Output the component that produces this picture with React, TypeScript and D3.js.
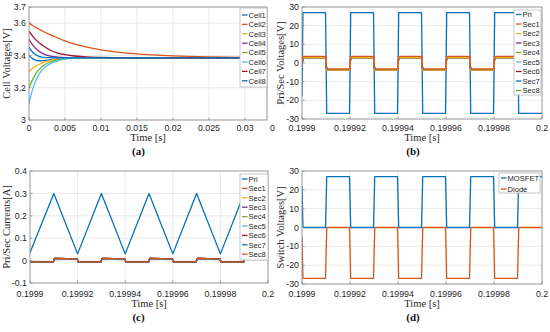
import React from "react";
import * as d3 from "d3";

// ---------- colours (MATLAB default order) ----------
const C_BLUE = "#0072BD";
const C_ORANGE = "#D95319";
const C_YELLOW = "#EDB120";
const C_PURPLE = "#7E2F8E";
const C_GREEN = "#77AC30";
const C_CYAN = "#4DBEEE";
const C_RED = "#A2142F";

// ---------- panel (a): cell voltages ----------
const cellTimes = [0, 0.0005, 0.001, 0.0015, 0.002, 0.003, 0.004, 0.005, 0.006, 0.008, 0.01, 0.012, 0.015, 0.02, 0.025, 0.03, 0.034];
const cellNames = ["Cell1", "Cell2", "Cell3", "Cell4", "Cell5", "Cell6", "Cell7", "Cell8"];
const cell1 = [3.4, 3.38, 3.37, 3.367, 3.368, 3.374, 3.379, 3.382, 3.384, 3.385, 3.385, 3.385, 3.385, 3.385, 3.385, 3.385, 3.385];
const cell2 = [3.6, 3.585, 3.572, 3.56, 3.548, 3.527, 3.508, 3.49, 3.475, 3.452, 3.435, 3.422, 3.409, 3.397, 3.391, 3.388, 3.387];
const cell3 = [3.3, 3.32, 3.335, 3.347, 3.357, 3.37, 3.378, 3.382, 3.384, 3.385, 3.385, 3.385, 3.385, 3.385, 3.385, 3.385, 3.385];
const cell4 = [3.5, 3.465, 3.44, 3.422, 3.41, 3.396, 3.39, 3.387, 3.386, 3.385, 3.385, 3.385, 3.385, 3.385, 3.385, 3.385, 3.385];
const cell5 = [3.2, 3.25, 3.29, 3.318, 3.338, 3.36, 3.373, 3.38, 3.383, 3.385, 3.385, 3.385, 3.385, 3.385, 3.385, 3.385, 3.385];
const cell6 = [3.1, 3.19, 3.25, 3.29, 3.318, 3.35, 3.367, 3.377, 3.382, 3.385, 3.385, 3.385, 3.385, 3.385, 3.385, 3.385, 3.385];
const cell7 = [3.55, 3.52, 3.495, 3.475, 3.458, 3.432, 3.415, 3.405, 3.398, 3.391, 3.388, 3.386, 3.385, 3.385, 3.385, 3.385, 3.385];
const cell8 = [3.45, 3.42, 3.403, 3.393, 3.388, 3.386, 3.385, 3.385, 3.385, 3.385, 3.385, 3.385, 3.385, 3.385, 3.385, 3.385, 3.385];
const cellColors = [C_BLUE, C_ORANGE, C_YELLOW, C_PURPLE, C_GREEN, C_CYAN, C_RED, C_BLUE];
const aXTicks = [0, 0.005, 0.01, 0.015, 0.02, 0.025, 0.03, 0.035];
const aXTickLabels = ["0", "0.005", "0.01", "0.015", "0.02", "0.025", "0.03", "0"];
const aYTicks = [3, 3.2, 3.4, 3.6, 3.7];
const aYTickLabels = ["3", "3.2", "3.4", "3.6", "3.7"];

// ---------- panels (b),(c),(d): switching waveforms, time in µs after 0.1999 s ----------
const swTime = [0, 0.4, 9.8, 10.3, 19.8, 20.3, 29.8, 30.3, 39.8, 40.3, 49.8, 50.3, 59.8, 60.3, 69.8, 70.3, 79.8, 80.3, 89.8, 90.3, 100];
const priVolt = [-18, 27, 27, -27, -27, 27, 27, -27, -27, 27, 27, -27, -27, 27, 27, -27, -27, 27, 27, -27, -27];
const sec1Volt = [-1, 3.5, 3.5, -3.2, -3.2, 3.5, 3.5, -3.2, -3.2, 3.5, 3.5, -3.2, -3.2, 3.5, 3.5, -3.2, -3.2, 3.5, 3.5, -3.2, -3.2];
const secOtherVolt = [-1.5, 2.9, 2.9, -3.8, -3.8, 2.9, 2.9, -3.8, -3.8, 2.9, 2.9, -3.8, -3.8, 2.9, 2.9, -3.8, -3.8, 2.9, 2.9, -3.8, -3.8];
const priCurTime = [0, 10, 20, 30, 40, 50, 60, 70, 80, 90, 100];
const priCur = [0.035, 0.3, 0.03, 0.3, 0.03, 0.3, 0.03, 0.3, 0.03, 0.3, 0.04];
const secCur = [-0.006, -0.006, -0.006, 0.01, 0.008, -0.006, -0.006, 0.01, 0.008, -0.006, -0.006, 0.01, 0.008, -0.006, -0.006, 0.01, 0.008, -0.006, -0.006, 0.01, 0.009];
const mosfetVolt = [22, 0, 0, 27, 27, 0, 0, 27, 27, 0, 0, 27, 27, 0, 0, 27, 27, 0, 0, 27, 27];
const diodeVolt = [-5, -27, -27, 0, 0, -27, -27, 0, 0, -27, -27, 0, 0, -27, -27, 0, 0, -27, -27, 0, 0];
const secNames = ["Pri", "Sec1", "Sec2", "Sec3", "Sec4", "Sec5", "Sec6", "Sec7", "Sec8"];
const secColorsB = [C_BLUE, C_ORANGE, C_YELLOW, C_PURPLE, C_GREEN, C_CYAN, C_RED, C_BLUE, C_GREEN];
const secColorsC = [C_BLUE, C_ORANGE, C_YELLOW, C_PURPLE, C_GREEN, C_CYAN, C_RED, C_BLUE, C_ORANGE];
const swXTicks = [0, 20, 40, 60, 80, 100];
const swXTickLabels = ["0.1999", "0.19992", "0.19994", "0.19996", "0.19998", "0.2"];
const vYTicks = [-30, -20, -10, 0, 10, 20, 30];
const vYTickLabels = ["-30", "-20", "-10", "0", "10", "20", "30"];
const iYTicks = [-0.1, 0, 0.1, 0.2, 0.3, 0.4];
const iYTickLabels = ["-0.1", "0", "0.1", "0.2", "0.3", "0.4"];

type Series = { x: number[]; y: number[]; color: string; smooth?: boolean };
type LegendEntry = { name: string; color: string };

const SANS = "'Liberation Sans', Arial, sans-serif";
const SERIF = "'Liberation Serif', 'Times New Roman', serif";

function Axes(props: {
  id: string;
  box: [number, number, number, number];
  xDomain: [number, number];
  yDomain: [number, number];
  xTicks: number[];
  xTickLabels: string[];
  yTicks: number[];
  yTickLabels: string[];
  series: Series[];
  legendBox: [number, number, number, number];
  legendRow0: number;
  legendStep: number;
  legend: LegendEntry[];
  ylabel: string;
  ylabelX: number;
  caption: string;
  captionX: number;
  captionY: number;
  xlabelY: number;
  xtickY: number;
}) {
  const [x0, y0, x1, y1] = props.box;
  const xs = d3.scaleLinear().domain(props.xDomain).range([x0, x1]);
  const ys = d3.scaleLinear().domain(props.yDomain).range([y1, y0]);
  const gridColor = "#e3e3e3";
  const axisColor = "#8a8a8a";
  const [lx0, ly0, lx1, ly1] = props.legendBox;
  const inside = (t: number) => xs(t) <= x1 + 0.5;
  return (
    <g>
      <defs>
        <clipPath id={`${props.id}-plot`}>
          <rect x={x0} y={y0} width={x1 - x0} height={y1 - y0} />
        </clipPath>
      </defs>
      <rect x={x0} y={y0} width={x1 - x0} height={y1 - y0} fill="#fff" />
      {props.xTicks.filter((t) => xs(t) > x0 + 0.5 && xs(t) < x1 - 0.5).map((t, i) => (
        <line key={"gx" + i} x1={xs(t)} x2={xs(t)} y1={y0} y2={y1} stroke={gridColor} strokeWidth={0.8} />
      ))}
      {props.yTicks.filter((t) => ys(t) > y0 + 0.5 && ys(t) < y1 - 0.5).map((t, i) => (
        <line key={"gy" + i} x1={x0} x2={x1} y1={ys(t)} y2={ys(t)} stroke={gridColor} strokeWidth={0.8} />
      ))}
      <g clipPath={`url(#${props.id}-plot)`}>
        {props.series.map((s, i) => {
          const pts = s.x.map((xv, k) => [xv, s.y[k]] as [number, number]);
          const gen = d3
            .line<[number, number]>()
            .x((d) => xs(d[0]))
            .y((d) => ys(d[1]))
            .curve(s.smooth ? d3.curveMonotoneX : d3.curveLinear);
          return <path key={"s" + i} d={gen(pts) || ""} fill="none" stroke={s.color} strokeWidth={1.3} strokeLinejoin="round" />;
        })}
      </g>
      <rect x={x0} y={y0} width={x1 - x0} height={y1 - y0} fill="none" stroke={axisColor} strokeWidth={0.9} />
      {props.xTicks.map((t, i) =>
        inside(t) ? (
          <g key={"xt" + i}>
            <line x1={xs(t)} x2={xs(t)} y1={y1} y2={y1 - 2.5} stroke={axisColor} strokeWidth={0.8} />
            <text x={xs(t)} y={props.xtickY} textAnchor="middle" fontFamily={SANS} fontSize={8.8} fill="#262626">
              {props.xTickLabels[i]}
            </text>
          </g>
        ) : (
          // tick past the right edge: only its leading character remains visible in the reference
          <text key={"xt" + i} x={xs(t) - 11} y={props.xtickY} textAnchor="start" fontFamily={SANS} fontSize={8.8} fill="#262626">
            {props.xTickLabels[i]}
          </text>
        )
      )}
      {props.yTicks.map((t, i) => (
        <g key={"yt" + i}>
          <line x1={x0} x2={x0 + 2.5} y1={ys(t)} y2={ys(t)} stroke={axisColor} strokeWidth={0.8} />
          <text x={x0 - 3} y={ys(t) + 3.1} textAnchor="end" fontFamily={SANS} fontSize={8.8} fill="#262626">
            {props.yTickLabels[i]}
          </text>
        </g>
      ))}
      <text
        transform={`translate(${props.ylabelX},${(y0 + y1) / 2}) rotate(-90)`}
        textAnchor="middle"
        fontFamily={SERIF}
        fontSize={10.5}
        fill="#262626"
      >
        {props.ylabel}
      </text>
      <text x={(x0 + x1) / 2} y={props.xlabelY} textAnchor="middle" fontFamily={SERIF} fontSize={10.5} fill="#262626">
        Time [s]
      </text>
      <text x={props.captionX} y={props.captionY} textAnchor="middle" fontFamily={SERIF} fontSize={11} fontWeight="bold" fill="#111">
        {props.caption}
      </text>
      <rect x={lx0} y={ly0} width={lx1 - lx0} height={ly1 - ly0} fill="#fff" stroke="#b0b0b0" strokeWidth={0.7} />
      {props.legend.map((e, i) => {
        const yy = props.legendRow0 + i * props.legendStep;
        return (
          <g key={"lg" + i}>
            <line x1={lx0 + 2} x2={lx0 + 7.5} y1={yy} y2={yy} stroke={e.color} strokeWidth={1.3} />
            <text x={lx0 + 8.5} y={yy + 2.7} fontFamily={SANS} fontSize={7.6} fill="#262626">
              {e.name}
            </text>
          </g>
        );
      })}
    </g>
  );
}

export default function App() {
  const cells = [cell1, cell2, cell3, cell4, cell5, cell6, cell7, cell8];
  const aSeries: Series[] = cells.map((c, i) => ({ x: cellTimes, y: c, color: cellColors[i], smooth: true }));
  const aLegend = cellNames.map((n, i) => ({ name: n, color: cellColors[i] }));

  const bSeries: Series[] = [
    { x: swTime, y: priVolt, color: C_BLUE },
    ...[8, 7, 6, 5, 4, 3, 2].map((k) => ({ x: swTime, y: secOtherVolt, color: secColorsB[k] })),
    { x: swTime, y: sec1Volt, color: C_ORANGE },
  ];
  const bLegend = secNames.map((n, i) => ({ name: n, color: secColorsB[i] }));

  const cSeries: Series[] = [
    { x: priCurTime, y: priCur, color: C_BLUE },
    ...[1, 2, 3, 4, 5, 6, 7, 8].map((k) => ({ x: swTime, y: secCur, color: secColorsC[k] })),
  ];
  const cLegend = secNames.map((n, i) => ({ name: n, color: secColorsC[i] }));

  const dSeries: Series[] = [
    { x: swTime, y: mosfetVolt, color: C_BLUE },
    { x: swTime, y: diodeVolt, color: C_ORANGE },
  ];
  const dLegend = [
    { name: "MOSFET", color: C_BLUE },
    { name: "Diode", color: C_ORANGE },
  ];

  return (
    <svg
      width={550}
      height={332}
      viewBox="0 0 550 332"
      style={{ position: "fixed", left: 0, top: 0, background: "#fff" }}
    >
      <rect x={0} y={0} width={550} height={332} fill="#fff" />
      <Axes
        id="pa"
        box={[29, 7, 267, 120]}
        xDomain={[0, 0.03306]}
        yDomain={[3, 3.7]}
        xTicks={aXTicks}
        xTickLabels={aXTickLabels}
        yTicks={aYTicks}
        yTickLabels={aYTickLabels}
        series={aSeries}
        legendBox={[240, 8, 267, 87]}
        legendRow0={15}
        legendStep={9.4}
        legend={aLegend}
        ylabel="Cell Voltages[V]"
        ylabelX={10}
        caption="(a)"
        captionX={138.5}
        captionY={155}
        xlabelY={141}
        xtickY={131}
      />
      <Axes
        id="pb"
        box={[302, 7, 542, 119]}
        xDomain={[0, 100]}
        yDomain={[-30, 30]}
        xTicks={swXTicks}
        xTickLabels={swXTickLabels}
        yTicks={vYTicks}
        yTickLabels={vYTickLabels}
        series={bSeries}
        legendBox={[514, 10, 541, 95]}
        legendRow0={14.5}
        legendStep={9.5}
        legend={bLegend}
        ylabel="Pri/Sec Voltages[V]"
        ylabelX={284}
        caption="(b)"
        captionX={413}
        captionY={155}
        xlabelY={141}
        xtickY={131}
      />
      <Axes
        id="pc"
        box={[30, 171, 268, 283]}
        xDomain={[0, 100]}
        yDomain={[-0.1, 0.4]}
        xTicks={swXTicks}
        xTickLabels={swXTickLabels}
        yTicks={iYTicks}
        yTickLabels={iYTickLabels}
        series={cSeries}
        legendBox={[240, 174, 268, 260]}
        legendRow0={179}
        legendStep={9.4}
        legend={cLegend}
        ylabel="Pri/Sec Currents[A]"
        ylabelX={10}
        caption="(c)"
        captionX={138.5}
        captionY={321}
        xlabelY={306.5}
        xtickY={296.5}
      />
      <Axes
        id="pd"
        box={[302, 171, 542, 284]}
        xDomain={[0, 100]}
        yDomain={[-30, 30]}
        xTicks={swXTicks}
        xTickLabels={swXTickLabels}
        yTicks={vYTicks}
        yTickLabels={vYTickLabels}
        series={dSeries}
        legendBox={[499, 173, 540, 193]}
        legendRow0={178}
        legendStep={11}
        legend={dLegend}
        ylabel="Switch Voltages[V]"
        ylabelX={284}
        caption="(d)"
        captionX={413}
        captionY={321}
        xlabelY={306.5}
        xtickY={296.5}
      />
    </svg>
  );
}
